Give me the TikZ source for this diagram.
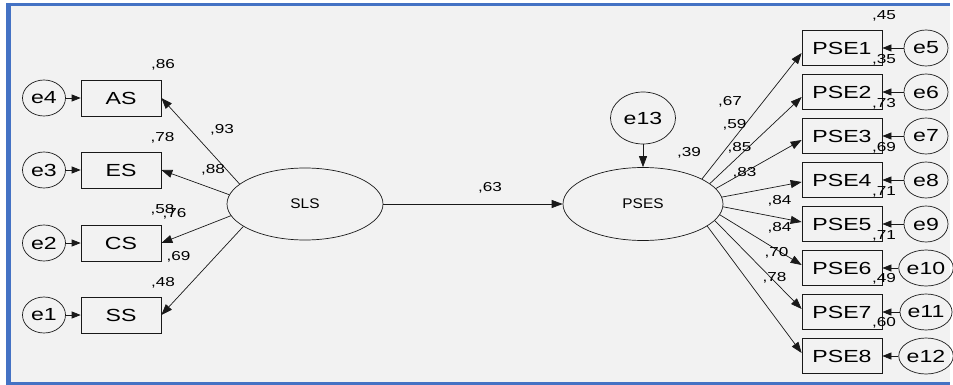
\documentclass[tikz,border=0pt]{standalone}
\usepackage{fontspec}
\setmainfont{Liberation Sans}
\newfontfamily\obsfont[FakeStretch=1.32]{Liberation Sans}
\newfontfamily\latfont[FakeStretch=1.1]{Liberation Sans}
\usetikzlibrary{arrows.meta,calc,shapes.geometric}
\definecolor{bgc}{HTML}{F2F2F2}
\definecolor{frm}{HTML}{4472C4}
\begin{document}
\begin{tikzpicture}[x=1pt,y=-1pt,line width=0.7pt,
  obs/.style={draw=black!90,rectangle,minimum width=80pt,minimum height=36pt,inner sep=0pt,font=\obsfont\fontsize{17.5}{17.5}\selectfont,text=black},
  err/.style={draw=black!90,ellipse,minimum width=44pt,minimum height=36pt,inner sep=0pt,font=\obsfont\fontsize{17.5}{17.5}\selectfont,text=black},
  lat/.style={draw=black!90,ellipse,inner sep=0pt,font=\latfont\fontsize{14}{14}\selectfont,text=black},
  num/.style={inner sep=0pt,font=\obsfont\fontsize{13}{13}\selectfont,text=black},
  arr/.style={draw=black!90,-{Triangle[length=11pt,width=8pt]}},
  sarr/.style={draw=black!90,-{Triangle[length=9pt,width=7pt]}}]
\useasboundingbox (0,0) rectangle (953,385);
\fill[white] (0,0) rectangle (953,385);
\fill[bgc] (8,4) rectangle (950,383);
\draw[frm,line width=3pt] (6,4.2) -- (950,4.2);
\draw[frm,line width=3pt] (6,383.5) -- (950,383.5);
\draw[frm,line width=5pt] (8.2,3) -- (8.2,385);

% left observed
\node[obs] (AS) at (121,98) {AS};
\node[obs] (ES) at (121,170) {ES};
\node[obs] (CS) at (121,243) {CS};
\node[obs] (SS) at (121,315) {SS};
\node[err,minimum width=43pt] (e4) at (44,98) {e4};
\node[err,minimum width=43pt] (e3) at (44,170) {e3};
\node[err,minimum width=43pt] (e2) at (44,243) {e2};
\node[err,minimum width=43pt] (e1) at (44,315) {e1};
\foreach \e/\b in {e4/AS,e3/ES,e2/CS,e1/SS}{\draw[sarr] (\e.east) -- (\b.west);}

% latent
\node[lat,minimum width=156pt,minimum height=72pt] (SLS) at (305,204) {SLS};
\node[lat,minimum width=160pt,minimum height=73pt] (PSES) at (643,204) {PSES};
\node[err,minimum width=65pt,minimum height=52pt] (e13) at (643,118) {e13};
\draw[arr] (SLS.east) -- (PSES.west);
\draw[arr] (e13.south) -- (PSES.north);

\draw[arr] (SLS.163.7) -- (AS.east);
\draw[arr] (SLS.173) -- (ES.east);
\draw[arr] (SLS.189.5) -- (CS.east);
\draw[arr] (SLS.200) -- (SS.east);

% right observed
\foreach \i/\yy in {1/48,2/92,3/136,4/180,5/224,6/268,7/312,8/356}{
  \node[obs,minimum height=35pt] (PSE\i) at (842,\yy) {PSE\i};
}
\foreach \i/\yy/\k in {1/48/5,2/92/6,3/136/7,4/180/8,5/224/9,6/268/10,7/312/11,8/356/12}{
  \node[err] (e\k) at (926,\yy) {e\k};
  \draw[sarr] (e\k.west) -- (PSE\i.east);
}
\draw[arr] (PSES.23.5) -- ($(PSE1.west)+(0,5)$);
\draw[arr] (PSES.17.7) -- ($(PSE2.west)+(0,5)$);
\draw[arr] (PSES.12.8) -- ($(PSE3.west)+(0,4)$);
\draw[arr] (PSES.5) -- ($(PSE4.west)+(0,2)$);
\draw[arr] (PSES.-2) -- ($(PSE5.west)+(0,-2)$);
\draw[arr] (PSES.-8.5) -- ($(PSE6.west)+(0,-3)$);
\draw[arr] (PSES.-13) -- ($(PSE7.west)+(0,-3)$);
\draw[arr] (PSES.-19) -- ($(PSE8.west)+(0,-3)$);

% labels left
\node[num] (l86) at (163,64.5) {,86};
\node[num] (l93) at (222,129.5) {,93};
\node[num] (l78) at (162.5,138) {,78};
\node[num] (l88) at (213,169.5) {,88};
\node[num] (l58) at (162.5,210) {,58};
\node[num] (l76) at (174.5,214) {,76};
\node[num] (l69) at (178.5,257) {,69};
\node[num] (l48) at (163,282.5) {,48};
\node[num] (l63) at (490,188) {,63};
\node[num] (l39) at (689,153) {,39};
% loadings right
\node[num] (r67) at (730,101.5) {,67};
\node[num] (r59) at (734.5,124.5) {,59};
\node[num] (r85) at (739.5,148) {,85};
\node[num] (r83) at (744.5,172.5) {,83};
\node[num] (r84a) at (779.5,200.5) {,84};
\node[num] (r84b) at (779.5,227.5) {,84};
\node[num] (r70) at (776.5,252.5) {,70};
\node[num] (r78) at (774.5,277.5) {,78};
% R squared right
\node[num] (q45) at (884,15.5) {,45};
\node[num] (q35) at (884,59.5) {,35};
\node[num] (q73) at (884,103.5) {,73};
\node[num] (q69) at (884,147.5) {,69};
\node[num] (q71a) at (884,192) {,71};
\node[num] (q71b) at (884,235.5) {,71};
\node[num] (q49) at (884,279) {,49};
\node[num] (q60) at (884,323) {,60};
\end{tikzpicture}
\end{document}
